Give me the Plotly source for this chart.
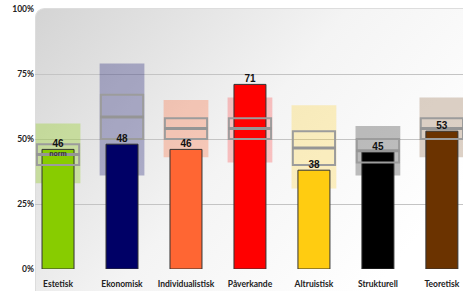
import base64
import plotly.graph_objects as go

categories = ["Estetisk", "Ekonomisk", "Individualistisk", "Påverkande", "Altruistisk", "Strukturell", "Teoretisk"]
values = [46, 48, 46, 71, 38, 45, 53]
range_low = [33, 36, 43, 41, 31, 36, 43]
range_high = [56, 79, 65, 66, 63, 55, 66]
norm_q1 = [40, 50, 50, 50, 40, 41, 50]
norm_q3 = [48, 67, 58, 58, 53, 50, 58]
norm_median = [44, 58.5, 54, 54, 46.5, 45.5, 54]
bar_colors = ["#88CC00", "#000066", "#FF6633", "#FF0000", "#FFCC11", "#000000", "#6B3300"]
box_colors = ["rgba(136,204,0,0.30)", "rgba(0,0,102,0.28)", "rgba(255,102,51,0.30)",
              "rgba(255,0,0,0.22)", "rgba(255,204,17,0.25)", "rgba(0,0,0,0.25)", "rgba(107,51,0,0.22)"]
y_ticks = [0, 25, 50, 75, 100]

idx = list(range(len(categories)))

fig = go.Figure()

# range boxes
fig.add_trace(go.Bar(
    x=idx, base=range_low, y=[h - l for h, l in zip(range_high, range_low)],
    width=0.7, marker=dict(color=box_colors, line=dict(width=0)),
    hoverinfo="skip", showlegend=False))

# value bars
fig.add_trace(go.Bar(
    x=idx, y=values, width=0.5,
    marker=dict(color=bar_colors, line=dict(color="#333333", width=1)),
    hoverinfo="skip", showlegend=False))

# norm boxes (outline)
fig.add_trace(go.Bar(
    x=idx, base=norm_q1, y=[h - l for h, l in zip(norm_q3, norm_q1)],
    width=0.66, marker=dict(color="rgba(0,0,0,0)", line=dict(color="#9C9C9C", width=2)),
    hoverinfo="skip", showlegend=False))

# medians
mx, my = [], []
for i, m in zip(idx, norm_median):
    mx += [i - 0.34, i + 0.34, None]
    my += [m, m, None]
fig.add_trace(go.Scatter(x=mx, y=my, mode="lines", line=dict(color="#959595", width=3),
                         hoverinfo="skip", showlegend=False))

# value labels
fig.add_trace(go.Scatter(
    x=idx, y=values, mode="text", text=[str(v) for v in values],
    textposition="top center",
    textfont=dict(family="Liberation Sans", size=10, color="#111111", weight="bold"),
    hoverinfo="skip", showlegend=False, cliponaxis=False))

# "norm" label
fig.add_trace(go.Scatter(
    x=[idx[0]], y=[norm_median[0]], mode="text", text=["norm"],
    textposition="middle center",
    textfont=dict(family="Liberation Sans", size=7, color="#333333", weight="bold"),
    hoverinfo="skip", showlegend=False, cliponaxis=False))

svg = ('<svg xmlns="http://www.w3.org/2000/svg" width="428" height="282" viewBox="0 0 428 282" '
       'preserveAspectRatio="none"><defs><linearGradient id="g" x1="0" y1="0" x2="1" y2="0.55">'
       '<stop offset="0" stop-color="#D4D4D4"/><stop offset="0.55" stop-color="#F4F4F4"/>'
       '<stop offset="1" stop-color="#FFFFFF"/></linearGradient></defs>'
       '<rect x="0.5" y="0.5" width="440" height="290" rx="9" ry="9" fill="url(#g)" '
       'stroke="#DDDDDD" stroke-width="1"/></svg>')
src = "data:image/svg+xml;base64," + base64.b64encode(svg.encode()).decode()

fig.update_layout(
    width=465, height=291,
    margin=dict(l=35, r=2, t=9, b=22, autoexpand=False),
    paper_bgcolor="white", plot_bgcolor="rgba(0,0,0,0)",
    barmode="overlay",
    images=[dict(source=src, xref="paper", yref="paper", x=0, y=1.0 + 1/260,
                 sizex=1.0, sizey=1.0 + 23/260, sizing="stretch",
                 xanchor="left", yanchor="top", layer="below")],
    xaxis=dict(range=[-0.36, 6.33], tickvals=idx, ticktext=categories,
               showgrid=False, zeroline=False, showline=False,
               ticks="outside", ticklen=7, tickcolor="rgba(0,0,0,0)",
               tickfont=dict(family="Lato", size=8.5, color="#222222", weight="bold"),
               automargin=False, fixedrange=True),
    yaxis=dict(range=[0, 100], tickvals=y_ticks, ticktext=[f"{t}%" for t in y_ticks],
               showgrid=True, gridcolor="#C4C4C4", gridwidth=1, zeroline=False,
               showline=False, ticks="",
               tickfont=dict(family="Lato", size=8.5, color="#222222", weight="bold"),
               automargin=False, fixedrange=True),
)

fig.write_html("out.html", config={"displayModeBar": False},
               post_script="document.body.style.margin='0';document.body.style.overflow='hidden';")
